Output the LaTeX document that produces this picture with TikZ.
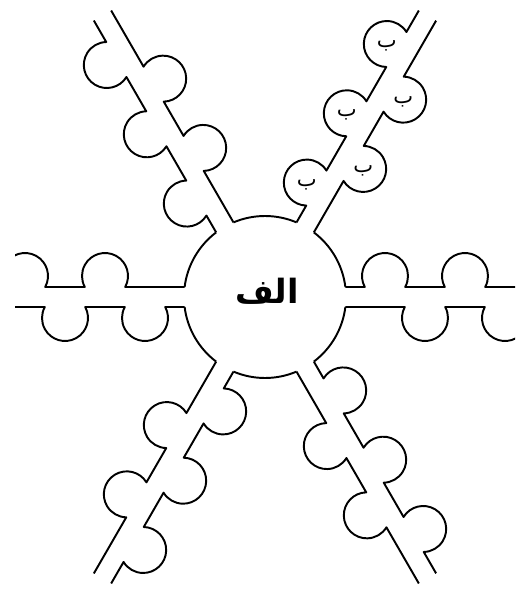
\documentclass[tikz,border=0pt]{standalone}
\usepackage{fontspec}
\usepackage{tikz}
\usetikzlibrary{calc}
\newfontfamily\arabicfont[Script=Arabic]{DejaVu Sans}
\TeXXeTstate=1

\begin{document}
\begin{tikzpicture}[
    x=0.02cm, y=0.02cm,
    khat/.style={line width=1.1pt, black, line join=round},
    harf/.style={font=\arabicfont\fontsize{12}{12}\selectfont, inner sep=0pt},
    onvan/.style={font=\arabicfont\bfseries\fontsize{19}{19}\selectfont, inner sep=0pt},
    shakhe/.pic={
        \begin{scope}
            \clip (0,-60) rectangle (#1,60);
            \draw[khat] (80.38,10) -- (99.8,10)
                arc[start angle=208.58, end angle=-28.58, radius=23] -- (179.8,10)
                arc[start angle=208.58, end angle=-28.58, radius=23] -- (259.8,10)
                arc[start angle=208.58, end angle=-28.58, radius=23] -- (325,10);
            \draw[khat] (80.38,-10) -- (139.8,-10)
                arc[start angle=151.42, end angle=388.58, radius=23] -- (219.8,-10)
                arc[start angle=151.42, end angle=388.58, radius=23] -- (325,-10);
        \end{scope}
    }
]
    \useasboundingbox (0,0) rectangle (518,589);
    \coordinate (markaz) at (265,292);

    \foreach \a in {0,60,...,300}
        \draw[khat] ($(markaz)+(\a+7.09:81)$) arc[start angle=\a+7.09, end angle=\a+52.91, radius=81];

    \pic[rotate=0] at (markaz) {shakhe=250};
    \pic[rotate=180] at (markaz) {shakhe=250};
    \foreach \a in {60,120,240,300}
        \pic[rotate=\a] at (markaz) {shakhe=325};

    \node[onvan] (alef) at ($(markaz)+(2,6)$) {\beginR الف\endR};

    \foreach \s/\n [count=\i] in {120/150, 200/150, 280/150, 160/-30, 240/-30}
        \node[harf] (be\i) at ($(markaz)+(60:\s)+(\n:21)+(0,-2)$) {\beginR ب\endR};
\end{tikzpicture}
\end{document}
